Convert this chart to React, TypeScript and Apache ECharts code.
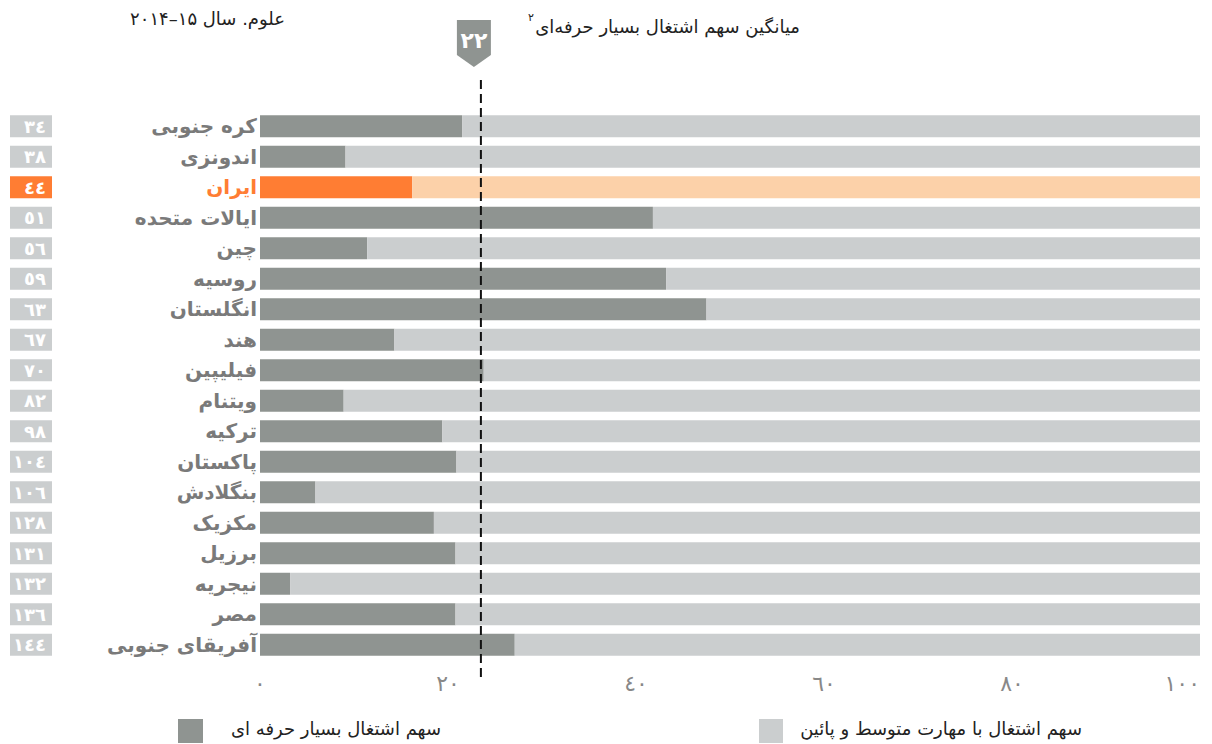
import React, { useEffect, useRef } from 'react';
import * as echarts from 'echarts';

const countries = [
  'کره جنوبی', 'اندونزی', 'ایران', 'ایالات متحده', 'چین', 'روسیه', 'انگلستان', 'هند', 'فیلیپین',
  'ویتنام', 'ترکیه', 'پاکستان', 'بنگلادش', 'مکزیک', 'برزیل', 'نیجریه', 'مصر', 'آفریقای جنوبی',
];
const ranks = ['٣٤', '٣٨', '٤٤', '٥١', '٥٦', '٥٩', '٦٣', '٦٧', '٧٠', '٨٢', '٩٨', '١٠٤', '١٠٦', '١٢٨', '١٣١', '١٣٢', '١٣٦', '١٤٤'];
const highSkillShare = [21.5, 9.1, 16.2, 41.8, 11.4, 43.2, 47.5, 14.3, 23.8, 8.9, 19.4, 20.9, 5.9, 18.5, 20.8, 3.2, 20.8, 27.1];
const midLowShare = [78.5, 90.9, 83.8, 58.2, 88.6, 56.8, 52.5, 85.7, 76.2, 91.1, 80.6, 79.1, 94.1, 81.5, 79.2, 96.8, 79.2, 72.9];
const xTickLabels: Record<number, string> = { 0: '٠', 20: '٢٠', 40: '٤٠', 60: '٦٠', 80: '٨٠', 100: '١٠٠' };
const highlightCountry = 'ایران';
const averageLabel = '٢٢';
const averageLinePosition = 23.5;

const titleText = 'علوم. سال ۱۵–۲۰۱۴';
const subtitleText = 'میانگین سهم اشتغال بسیار حرفه‌ای';
const subtitleSup = '۲';
const legendHigh = 'سهم اشتغال بسیار حرفه ای';
const legendMidLow = 'سهم اشتغال با مهارت متوسط و پائین';

const DARK = '#8f9491';
const LIGHT = '#cbcecf';
const ORANGE = '#ff7d33';
const LIGHT_ORANGE = '#fcd1a9';
const FONT = '"DejaVu Sans", sans-serif';

export default function App() {
  const ref = useRef<HTMLDivElement>(null);
  useEffect(() => {
    document.body.style.margin = '0';
    const chart = echarts.init(ref.current!, undefined, { renderer: 'svg' });
    const hiIdx = countries.indexOf(highlightCountry);
    chart.setOption({
      animation: false,
      textStyle: { fontFamily: FONT },
      grid: { left: 260, right: 12, top: 111, height: 549, containLabel: false, outerBoundsMode: 'none' },
      xAxis: {
        type: 'value', min: 0, max: 100, interval: 20,
        axisLine: { show: false }, axisTick: { show: false }, splitLine: { show: false },
        axisLabel: {
          margin: 12, fontSize: 22, color: '#888', fontFamily: FONT, alignMaxLabel: 'right',
          formatter: (v: number) => xTickLabels[v] ?? String(v),
        },
      },
      yAxis: [
        {
          type: 'category', inverse: true, data: countries, position: 'left',
          axisLine: { show: false }, axisTick: { show: false },
          axisLabel: {
            margin: 3, fontSize: 20, fontWeight: 'bold', color: '#7a7a7a', fontFamily: FONT,
            formatter: (v: string) => (v === highlightCountry ? `{hi|${v}}` : v),
            rich: { hi: { color: ORANGE, fontSize: 20, fontWeight: 'bold', fontFamily: FONT } },
          },
        },
        {
          type: 'category', inverse: true, data: ranks, position: 'left', offset: 208,
          axisLine: { show: false }, axisTick: { show: false },
          axisLabel: {
            margin: 0,
            formatter: (v: string, i: number) => (i === hiIdx ? `{hi|${v}}` : `{box|${v}}`),
            rich: {
              box: { backgroundColor: LIGHT, color: '#fff', width: 36, height: 22, lineHeight: 22, padding: [0, 6, 0, 0], align: 'right', fontSize: 18, fontWeight: 'bold', fontFamily: FONT },
              hi: { backgroundColor: ORANGE, color: '#fff', width: 36, height: 22, lineHeight: 22, padding: [0, 6, 0, 0], align: 'right', fontSize: 18, fontWeight: 'bold', fontFamily: FONT },
            },
          },
        },
      ],
      series: [
        {
          type: 'bar', name: legendHigh, stack: 'total', barWidth: 22, yAxisIndex: 0,
          data: highSkillShare.map((v, i) => ({ value: v, itemStyle: { color: i === hiIdx ? ORANGE : DARK } })),
        },
        {
          type: 'bar', name: legendMidLow, stack: 'total', barWidth: 22, yAxisIndex: 0,
          data: midLowShare.map((v, i) => ({ value: v, itemStyle: { color: i === hiIdx ? LIGHT_ORANGE : LIGHT } })),
        },
      ],
    });
    const lx = chart.convertToPixel({ xAxisIndex: 0 }, averageLinePosition) as number;
    chart.setOption({
      graphic: [
        { type: 'text', right: 1212 - 285, top: 9, style: { text: titleText, fontSize: 18, fill: '#222', fontFamily: FONT } },
        { type: 'text', right: 1212 - 800, top: 17, style: { text: subtitleText, fontSize: 18, fill: '#222', fontFamily: FONT } },
        { type: 'text', left: 528, top: 12, style: { text: subtitleSup, fontSize: 11, fill: '#222', fontFamily: FONT } },
        {
          type: 'polygon',
          shape: { points: [[lx - 24, 20], [lx - 24 + 34, 20], [lx - 24 + 34, 55], [lx - 7, 67], [lx - 24, 55]] },
          style: { fill: DARK },
        },
        { type: 'text', x: lx - 7, y: 40, style: { text: averageLabel, fontSize: 22, fontWeight: 'bold', fill: '#fff', align: 'center', verticalAlign: 'middle', fontFamily: FONT } },
        {
          type: 'line', shape: { x1: lx, y1: 80, x2: lx, y2: 680 },
          style: { stroke: '#111', lineWidth: 2, lineDash: [9, 5] }, z: 10,
        },
        { type: 'rect', shape: { x: 178, y: 719, width: 25, height: 24 }, style: { fill: DARK } },
        { type: 'text', right: 1212 - 441, top: 719, style: { text: legendHigh, fontSize: 18, fill: '#222', fontFamily: FONT } },
        { type: 'rect', shape: { x: 759, y: 719, width: 24, height: 24 }, style: { fill: LIGHT } },
        { type: 'text', right: 1212 - 1082, top: 719, style: { text: legendMidLow, fontSize: 18, fill: '#222', fontFamily: FONT } },
      ],
    });
    return () => chart.dispose();
  }, []);
  return <div ref={ref} style={{ width: 1212, height: 744 }} />;
}
